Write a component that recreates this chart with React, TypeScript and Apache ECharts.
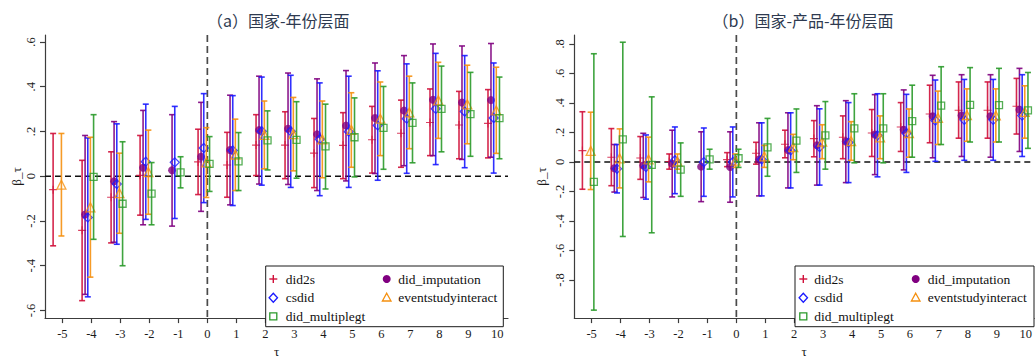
import React, { useEffect, useRef } from "react";
import * as echarts from "echarts";

const taus = [-5, -4, -3, -2, -1, 0, 1, 2, 3, 4, 5, 6, 7, 8, 9, 10];
const methodNames = ["did2s", "did_imputation", "csdid", "eventstudyinteract", "did_multiplegt"];
const panelTitles = ["（a）国家-年份层面", "（b）国家-产品-年份层面"];
const yTicksA = [-0.6, -0.4, -0.2, 0, 0.2, 0.4, 0.6];
const yTicksB = [-0.8, -0.6, -0.4, -0.2, 0, 0.2, 0.4, 0.6, 0.8];
const xAxisName = "τ";
const yAxisName = "β_τ";

// ---------- Panel (a) 国家-年份层面 ----------
const a_did2s_est = [-0.06, -0.242, -0.094, 0.004, null, 0.064, 0.05, 0.139, 0.139, 0.103, 0.138, 0.163, 0.192, 0.24, 0.229, 0.236];
const a_did2s_lo = [-0.311, -0.556, -0.298, -0.174, null, -0.082, -0.094, 0.003, -0.011, -0.051, -0.011, 0.014, 0.04, 0.092, 0.078, 0.082];
const a_did2s_hi = [0.191, 0.071, 0.109, 0.182, null, 0.21, 0.196, 0.275, 0.288, 0.258, 0.284, 0.312, 0.34, 0.39, 0.379, 0.387];

const a_imp_est = [null, -0.171, -0.023, 0.038, 0.027, 0.087, 0.117, 0.206, 0.212, 0.187, 0.226, 0.26, 0.293, 0.342, 0.329, 0.34];
const a_imp_lo = [null, -0.528, -0.295, -0.217, -0.223, -0.157, -0.128, -0.035, -0.037, -0.064, -0.021, 0.012, 0.047, 0.092, 0.075, 0.085];
const a_imp_hi = [null, 0.182, 0.244, 0.294, 0.275, 0.33, 0.362, 0.447, 0.461, 0.435, 0.472, 0.506, 0.539, 0.591, 0.582, 0.593];

const a_cs_est = [null, -0.184, -0.035, 0.065, 0.062, 0.126, 0.115, 0.201, 0.201, 0.165, 0.199, 0.227, 0.257, 0.301, 0.289, 0.26];
const a_cs_lo = [null, -0.539, -0.304, -0.193, -0.189, -0.118, -0.131, -0.04, -0.05, -0.087, -0.05, -0.018, 0.013, 0.052, 0.038, 0.014];
const a_cs_hi = [null, 0.171, 0.234, 0.322, 0.312, 0.369, 0.36, 0.443, 0.451, 0.417, 0.447, 0.471, 0.502, 0.549, 0.539, 0.506];

const a_esi_est = [-0.038, -0.139, -0.076, 0.018, null, 0.062, 0.097, 0.185, 0.188, 0.165, 0.207, 0.257, 0.285, 0.339, 0.321, 0.294];
const a_esi_lo = [-0.267, -0.451, -0.255, -0.17, null, -0.095, -0.064, 0.033, 0.024, -0.007, 0.04, 0.092, 0.123, 0.169, 0.145, 0.102];
const a_esi_hi = [0.191, 0.174, 0.103, 0.206, null, 0.217, 0.255, 0.336, 0.352, 0.336, 0.373, 0.421, 0.447, 0.509, 0.496, 0.487];

const a_mp_est = [null, -0.003, -0.123, -0.078, 0.017, 0.055, 0.066, 0.16, 0.162, 0.133, 0.174, 0.216, 0.238, 0.301, 0.277, 0.26];
const a_mp_lo = [null, -0.282, -0.4, -0.217, -0.052, -0.068, -0.064, 0.028, -0.009, -0.057, -0.003, 0.031, 0.06, 0.109, 0.089, 0.078];
const a_mp_hi = [null, 0.275, 0.154, 0.061, 0.087, 0.177, 0.195, 0.292, 0.333, 0.322, 0.35, 0.401, 0.417, 0.492, 0.464, 0.443];

// ---------- Panel (b) 国家-产品-年份层面 ----------
const b_did2s_est = [0.077, 0.032, 0.027, 0.003, null, 0.016, 0.059, 0.12, 0.158, 0.167, 0.196, 0.237, 0.325, 0.35, 0.35, 0.377];
const b_did2s_lo = [-0.185, -0.161, -0.118, -0.049, null, -0.032, -0.015, 0.028, 0.035, 0.022, 0.037, 0.071, 0.13, 0.161, 0.161, 0.189];
const b_did2s_hi = [0.34, 0.226, 0.172, 0.054, null, 0.063, 0.133, 0.215, 0.28, 0.312, 0.355, 0.402, 0.52, 0.542, 0.542, 0.566];

const b_imp_est = [null, -0.043, -0.024, -0.012, -0.032, -0.034, 0.017, 0.08, 0.113, 0.139, 0.186, 0.218, 0.309, 0.315, 0.31, 0.353];
const b_imp_lo = [null, -0.204, -0.241, -0.237, -0.269, -0.273, -0.23, -0.176, -0.157, -0.14, -0.086, -0.054, 0.028, 0.037, 0.032, 0.071];
const b_imp_hi = [null, 0.118, 0.194, 0.215, 0.204, 0.204, 0.265, 0.333, 0.381, 0.415, 0.456, 0.488, 0.587, 0.591, 0.591, 0.634];

const b_cs_est = [null, -0.046, -0.034, 0.011, -0.001, 0.0, 0.017, 0.078, 0.101, 0.131, 0.18, 0.194, 0.28, 0.285, 0.285, 0.314];
const b_cs_lo = [null, -0.21, -0.252, -0.215, -0.233, -0.237, -0.23, -0.176, -0.157, -0.14, -0.101, -0.071, 0.004, 0.011, 0.011, 0.037];
const b_cs_hi = [null, 0.118, 0.183, 0.237, 0.23, 0.237, 0.265, 0.333, 0.36, 0.402, 0.462, 0.458, 0.555, 0.559, 0.559, 0.591];

const b_esi_est = [0.075, 0.024, 0.017, 0.003, null, 0.009, 0.038, 0.101, 0.137, 0.142, 0.167, 0.196, 0.299, 0.318, 0.315, 0.339];
const b_esi_lo = [-0.187, -0.176, -0.135, -0.049, null, -0.037, -0.037, 0.015, 0.022, 0.011, 0.022, 0.032, 0.118, 0.14, 0.135, 0.161];
const b_esi_hi = [0.337, 0.224, 0.168, 0.054, null, 0.054, 0.112, 0.187, 0.252, 0.273, 0.312, 0.359, 0.48, 0.495, 0.495, 0.516];

const b_mp_est = [-0.135, 0.153, -0.02, -0.052, 0.018, 0.025, 0.099, 0.144, 0.18, 0.228, 0.228, 0.276, 0.381, 0.387, 0.385, 0.349];
const b_mp_lo = [-1.004, -0.505, -0.48, -0.233, -0.049, -0.037, -0.097, -0.071, -0.049, -0.006, -0.006, 0.032, 0.118, 0.135, 0.135, 0.092];
const b_mp_hi = [0.733, 0.811, 0.441, 0.129, 0.086, 0.086, 0.295, 0.359, 0.409, 0.462, 0.462, 0.52, 0.645, 0.639, 0.634, 0.606];

// ---------- styling ----------
const COLORS = ["#d0103a", "#800080", "#1a1aff", "#f5900f", "#2a9a2a"];
const OFFSETS = [-0.32, -0.217, -0.124, -0.034, 0.076];
const SERIF = "'Liberation Serif', 'Times New Roman', serif";
const CJK = "'Noto Sans CJK SC', sans-serif";
const PLUS_PATH = "path://M4.3,0H5.7V4.3H10V5.7H5.7V10H4.3V5.7H0V4.3H4.3Z";

const fmtY = (v: number) => {
  if (Math.abs(v) < 1e-9) return "0";
  const d = Math.round(Math.abs(v) * 10);
  return (v < 0 ? "-" : "") + "." + d;
};

export default function App() {
  const ref = useRef<HTMLDivElement>(null);

  useEffect(() => {
    if (!ref.current) return;
    const chart = echarts.init(ref.current, undefined, { renderer: "svg" });

    const panels = [
      {
        est: [a_did2s_est, a_imp_est, a_cs_est, a_esi_est, a_mp_est],
        lo: [a_did2s_lo, a_imp_lo, a_cs_lo, a_esi_lo, a_mp_lo],
        hi: [a_did2s_hi, a_imp_hi, a_cs_hi, a_esi_hi, a_mp_hi],
      },
      {
        est: [b_did2s_est, b_imp_est, b_cs_est, b_esi_est, b_mp_est],
        lo: [b_did2s_lo, b_imp_lo, b_cs_lo, b_esi_lo, b_mp_lo],
        hi: [b_did2s_hi, b_imp_hi, b_cs_hi, b_esi_hi, b_mp_hi],
      },
    ];

    const grids = [
      { left: 45, top: 35, width: 463, height: 297.3 },
      { left: 574.3, top: 35, width: 460.7, height: 297.3 },
    ];
    const xRanges = [
      [-5.6, 10.37],
      [-5.6, 10.29],
    ];
    const yRanges = [
      [-0.634, 0.631],
      [-1.058, 0.86],
    ];
    const yTicks = [yTicksA, yTicksB];

    const axisLineStyle = { color: "#3c3c3c", width: 1.2 };

    const xAxes = [0, 1].map((p) => ({
      type: "value",
      gridIndex: p,
      min: xRanges[p][0],
      max: xRanges[p][1],
      splitLine: { show: false },
      axisLine: { show: true, onZero: false, lineStyle: axisLineStyle },
      axisTick: { show: true, length: 5, customValues: taus, lineStyle: axisLineStyle },
      axisLabel: {
        customValues: taus,
        margin: 9,
        fontFamily: SERIF,
        fontSize: 12.5,
        color: "#1a1a1a",
        formatter: (v: number) => String(Math.round(v)),
      },
      name: xAxisName,
      nameLocation: "middle",
      nameGap: 22,
      nameTextStyle: { fontFamily: SERIF, fontSize: 13, color: "#1a1a1a" },
    }));

    const yAxes = [0, 1].map((p) => ({
      type: "value",
      gridIndex: p,
      min: yRanges[p][0],
      max: yRanges[p][1],
      splitLine: { show: false },
      axisLine: { show: true, onZero: false, lineStyle: axisLineStyle },
      axisTick: { show: true, length: 5, customValues: yTicks[p], lineStyle: axisLineStyle },
      axisLabel: {
        customValues: yTicks[p],
        rotate: 90,
        margin: 8,
        fontFamily: SERIF,
        fontSize: 12.5,
        color: "#1a1a1a",
        formatter: fmtY,
      },
      name: yAxisName,
      nameLocation: "middle",
      nameGap: p === 0 ? 22 : 26,
      nameRotate: 90,
      nameTextStyle: { fontFamily: SERIF, fontSize: 13, color: "#1a1a1a" },
    }));

    const series: any[] = [];
    [0, 1].forEach((p) => {
      series.push({
        type: "custom",
        xAxisIndex: p,
        yAxisIndex: p,
        silent: true,
        z: 1,
        data: [[0, 0]],
        renderItem: (params: any, api: any) => {
          const cs = params.coordSys;
          const pt = api.coord([api.value(0), api.value(1)]);
          return {
            type: "group",
            children: [
              {
                type: "line",
                shape: { x1: cs.x, y1: pt[1], x2: cs.x + cs.width, y2: pt[1] },
                style: { stroke: "#111", lineWidth: 1.4, lineDash: [6, 4] },
              },
              {
                type: "line",
                shape: { x1: pt[0], y1: cs.y, x2: pt[0], y2: cs.y + cs.height },
                style: { stroke: "#4a4a4a", lineWidth: 1.7, lineDash: [7, 4] },
              },
            ],
          };
        },
      });
      const pd = panels[p];
      for (let m = 0; m < 5; m++) {
        const color = COLORS[m];
        const bars: number[][] = [];
        const pts: number[][] = [];
        taus.forEach((t, i) => {
          const e = pd.est[m][i];
          const lo = pd.lo[m][i];
          const hi = pd.hi[m][i];
          if (e === null || lo === null || hi === null) return;
          bars.push([t + OFFSETS[m], lo as number, hi as number]);
          pts.push([t + OFFSETS[m], e as number]);
        });
        series.push({
          type: "custom",
          name: methodNames[m],
          xAxisIndex: p,
          yAxisIndex: p,
          silent: true,
          z: 2 + m * 2,
          data: bars,
          encode: { x: 0, y: [1, 2] },
          renderItem: (params: any, api: any) => {
            const x = api.value(0);
            const a = api.coord([x, api.value(1)]);
            const b = api.coord([x, api.value(2)]);
            const cw = 3;
            const st = { stroke: color, lineWidth: 1.6, opacity: 0.9 };
            return {
              type: "group",
              children: [
                { type: "line", shape: { x1: a[0], y1: a[1], x2: b[0], y2: b[1] }, style: st },
                { type: "line", shape: { x1: a[0] - cw, y1: a[1], x2: a[0] + cw, y2: a[1] }, style: st },
                { type: "line", shape: { x1: b[0] - cw, y1: b[1], x2: b[0] + cw, y2: b[1] }, style: st },
              ],
            };
          },
        });
        const hollow = m >= 2;
        const symbol = [PLUS_PATH, "circle", "diamond", "triangle", "rect"][m];
        const size = [8, 8, 9, 9, 7][m];
        series.push({
          type: "scatter",
          name: methodNames[m],
          xAxisIndex: p,
          yAxisIndex: p,
          silent: true,
          z: 3 + m * 2,
          symbol,
          symbolSize: size,
          data: pts,
          itemStyle: hollow
            ? { color: "rgba(255,255,255,0)", borderColor: color, borderWidth: 1.3 }
            : { color, borderWidth: 0 },
        });
      }
    });

    // legends and titles as graphic elements
    const graphic: any[] = [];
    const titleX = [278.3, 803];
    [0, 1].forEach((p) => {
      graphic.push({
        type: "text",
        x: titleX[p],
        y: 19.5,
        style: {
          text: panelTitles[p],
          fontFamily: CJK,
          fontSize: 16,
          fill: "#2e3a50",
          textAlign: "center",
          textVerticalAlign: "middle",
        },
      });
    });

    const legendBoxes = [
      { x: 265.7, y: 266, w: 237.6, h: 60.7, mx: [273.3, 386.7], tx: [285.7, 398.3] },
      { x: 795, y: 266, w: 239, h: 60.7, mx: [803.3, 915.7], tx: [814.3, 927.7] },
    ];
    const rowsY = [279, 297.7, 316.3];
    const slots = [
      [0, 0],
      [1, 0],
      [0, 1],
      [1, 1],
      [0, 2],
    ];
    legendBoxes.forEach((lb) => {
      graphic.push({
        type: "rect",
        shape: { x: lb.x, y: lb.y, width: lb.w, height: lb.h },
        style: { fill: "#fff", stroke: "#1a1a1a", lineWidth: 1 },
        z: 100,
      });
      methodNames.forEach((nm, m) => {
        const [c, r] = slots[m];
        const cx = lb.mx[c];
        const cy = rowsY[r];
        const col = COLORS[m];
        const st = { stroke: col, lineWidth: 1.3, fill: "none" };
        if (m === 0) {
          graphic.push({ type: "line", z: 101, shape: { x1: cx - 4, y1: cy, x2: cx + 4, y2: cy }, style: { stroke: col, lineWidth: 1.4 } });
          graphic.push({ type: "line", z: 101, shape: { x1: cx, y1: cy - 4, x2: cx, y2: cy + 4 }, style: { stroke: col, lineWidth: 1.4 } });
        } else if (m === 1) {
          graphic.push({ type: "circle", z: 101, shape: { cx, cy, r: 4 }, style: { fill: col } });
        } else if (m === 2) {
          graphic.push({
            type: "polygon",
            z: 101,
            shape: { points: [[cx, cy - 4.5], [cx + 4.2, cy], [cx, cy + 4.5], [cx - 4.2, cy]] },
            style: st,
          });
        } else if (m === 3) {
          graphic.push({
            type: "polygon",
            z: 101,
            shape: { points: [[cx, cy - 4.5], [cx + 4.3, cy + 3.3], [cx - 4.3, cy + 3.3]] },
            style: st,
          });
        } else {
          graphic.push({ type: "rect", z: 101, shape: { x: cx - 3.5, y: cy - 3.5, width: 7, height: 7 }, style: st });
        }
        graphic.push({
          type: "text",
          z: 101,
          x: lb.tx[c],
          y: cy,
          style: {
            text: nm,
            fontFamily: SERIF,
            fontSize: 13.5,
            fill: "#111",
            textAlign: "left",
            textVerticalAlign: "middle",
          },
        });
      });
    });

    chart.setOption({
      animation: false,
      backgroundColor: "#fff",
      grid: grids,
      xAxis: xAxes,
      yAxis: yAxes,
      series,
      graphic,
    });

    return () => chart.dispose();
  }, []);

  return (
    <div
      ref={ref}
      style={{ position: "fixed", left: 0, top: 0, width: 1035, height: 363, background: "#fff" }}
    />
  );
}
